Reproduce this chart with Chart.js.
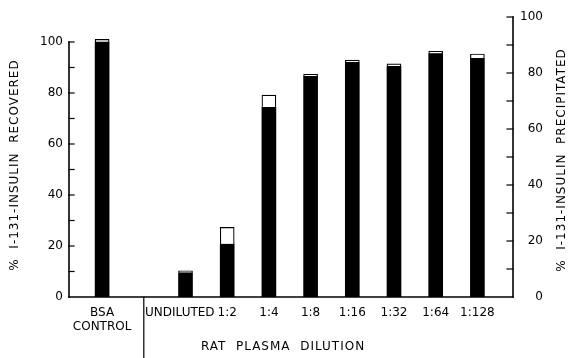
<!DOCTYPE html>
<html><head><meta charset="utf-8">
<script src="https://cdn.jsdelivr.net/npm/chart.js@4.4.1/dist/chart.umd.min.js"></script>
<style>html,body{margin:0;padding:0;background:#fff;}#wrap{width:574px;height:358px;}</style>
</head><body><div id="wrap"><canvas id="c" width="574" height="358"></canvas></div>
<script>
// ---- data ----
const categories = ["BSA CONTROL", "UNDILUTED", "1:2", "1:4", "1:8", "1:16", "1:32", "1:64", "1:128"];
const categoryPositions = [0, 2, 3, 4, 5, 6, 7, 8, 9];
const tickLabels = [["BSA", "CONTROL"], "UNDILUTED   ", "1:2", "1:4", "1:8", "1:16", "1:32", "1:64", "1:128"];
const blackValues = [100, 9.5, 20.7, 74.4, 86.5, 92.0, 90.5, 95.5, 93.6];
const whiteValues = [1.0, 0.8, 6.6, 4.8, 0.8, 0.9, 0.9, 0.8, 1.7];
const leftTickValues = [0, 20, 40, 60, 80, 100];
const rightTickValues = [0, 20, 40, 60, 80, 100];
const minorTickValues = [10, 20, 30, 40, 50, 60, 70, 80, 90, 100];
const separatorPosition = 1;
const leftTitle = "%  I-131-INSULIN  RECOVERED";
const rightTitle = "%  I-131-INSULIN  PRECIPITATED";
const xTitle = "RAT  PLASMA  DILUTION";

const FONT = "DejaVu Sans";

const axesPlugin = {
  id: 'axesPlugin',
  afterDraw(chart) {
    const ctx = chart.ctx;
    const ly = chart.scales.y, ry = chart.scales.y2, xs = chart.scales.x;
    const area = chart.chartArea;
    const xL = area.left, xR = area.right, yB = area.bottom;
    ctx.save();
    ctx.strokeStyle = '#000';
    ctx.lineWidth = 1.6;
    ctx.lineCap = 'square';
    const line = (a, b, c, d) => { ctx.beginPath(); ctx.moveTo(a, b); ctx.lineTo(c, d); ctx.stroke(); };
    line(xL, ly.getPixelForValue(0), xL, ly.getPixelForValue(100));
    line(xR, ry.getPixelForValue(0), xR, ry.getPixelForValue(100));
    line(xL, yB, xR, yB);
    ctx.lineWidth = 1.2;
    minorTickValues.forEach(v => {
      const yl = ly.getPixelForValue(v);
      line(xL, yl, xL + 5, yl);
      const yr = ry.getPixelForValue(v);
      line(xR, yr, xR - 6, yr);
    });
    const sx = xs.getPixelForValue(separatorPosition);
    line(sx, yB, sx, chart.height);
    ctx.fillStyle = '#000';
    ctx.font = '12px "' + FONT + '"';
    ctx.letterSpacing = '1px';
    ctx.textAlign = 'center';
    ctx.textBaseline = 'middle';
    const vtext = (t, x, y) => { ctx.save(); ctx.translate(x, y); ctx.rotate(-Math.PI / 2); ctx.fillText(t, 0, 0); ctx.restore(); };
    vtext(leftTitle, 15, 165);
    vtext(rightTitle, 562, 160);
    ctx.fillText(xTitle, 283, 347);
    ctx.restore();
  }
};

new Chart(document.getElementById('c'), {
  type: 'bar',
  data: {
    datasets: [
      {
        label: 'black',
        data: categoryPositions.map((x, i) => ({ x: x, y: blackValues[i] })),
        backgroundColor: '#000', borderColor: '#000', borderWidth: 0,
        barThickness: 14, yAxisID: 'y'
      },
      {
        label: 'white',
        data: categoryPositions.map((x, i) => ({ x: x, y: whiteValues[i] })),
        backgroundColor: '#fff', borderColor: '#000', borderWidth: 1.2,
        barThickness: 14, yAxisID: 'y'
      }
    ]
  },
  options: {
    responsive: false,
    animation: false,
    layout: { padding: { top: 17, left: 0, right: 31, bottom: 0 } },
    plugins: { legend: { display: false }, tooltip: { enabled: false }, title: { display: false } },
    scales: {
      x: {
        type: 'linear', min: -0.794, max: 9.854, stacked: true, offset: false,
        grid: { display: false, drawTicks: false, offset: false }, border: { display: false },
        afterBuildTicks: s => { s.ticks = categoryPositions.map(v => ({ value: v })); },
        afterFit: s => { s.height = 61; },
        ticks: {
          autoSkip: false, maxRotation: 0, minRotation: 0, padding: 9, color: '#000',
          font: { family: FONT, size: 12, lineHeight: 1.17 },
          callback: v => { const i = categoryPositions.indexOf(v); return i >= 0 ? tickLabels[i] : ''; }
        }
      },
      y: {
        position: 'left', stacked: true, min: 0, max: 109.8,
        grid: { display: false, drawTicks: false }, border: { display: false },
        afterBuildTicks: s => { s.ticks = leftTickValues.map(v => ({ value: v })); },
        afterFit: s => { s.width = 69; },
        ticks: { padding: 6, color: '#000', font: { family: FONT, size: 12 }, callback: v => String(v) }
      },
      y2: {
        position: 'right', min: 0, max: 100,
        grid: { display: false, drawTicks: false }, border: { display: false },
        afterBuildTicks: s => { s.ticks = rightTickValues.map(v => ({ value: v })); },
        afterFit: s => { s.width = 30; },
        ticks: { padding: 4, crossAlign: 'far', color: '#000', font: { family: FONT, size: 12 }, callback: v => String(v) }
      }
    }
  },
  plugins: [axesPlugin]
});
</script></body></html>
